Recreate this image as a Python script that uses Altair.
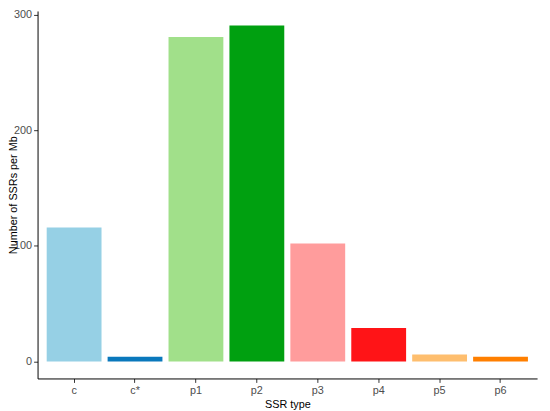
import altair as alt
import pandas as pd

categories = ["c", "c*", "p1", "p2", "p3", "p4", "p5", "p6"]
values = [116, 4, 281, 291, 102, 29, 6, 4]
colors = ["#96D0E5", "#0A78BC", "#A1E08A", "#00A010", "#FF9C9C", "#FF1417", "#FEBE6E", "#FF7F00"]

df = pd.DataFrame({"type": categories, "n": values})

chart = alt.Chart(df).mark_bar().encode(
    x=alt.X("type:N", sort=categories, title="SSR type",
            scale=alt.Scale(paddingInner=0.1, paddingOuter=0.15),
            axis=alt.Axis(labelAngle=0)),
    y=alt.Y("n:Q", title="Number of SSRs per Mb",
            scale=alt.Scale(domain=[-14.8, 303.5], nice=False, zero=False),
            axis=alt.Axis(values=[0, 100, 200, 300], titleX=-19)),
    color=alt.Color("type:N", sort=categories,
                    scale=alt.Scale(domain=categories, range=colors), legend=None),
).properties(
    width=507, height=373,
    autosize=alt.AutoSizeParams(type="none"),
    padding={"left": 30, "top": 0, "right": 5, "bottom": 30},
).configure_view(stroke=None).configure_axis(
    grid=False, domainColor="black", domainWidth=1,
    tickColor="#333333", tickSize=4, tickWidth=1,
    labelFont="Liberation Sans", labelFontSize=11, labelColor="#4D4D4D", labelPadding=2,
    titleFont="Liberation Sans", titleFontSize=11, titleColor="black", titleFontWeight="normal",
).configure_axisX(titlePadding=3)

chart.save("out.html", embed_options={"renderer": "svg", "actions": False})
